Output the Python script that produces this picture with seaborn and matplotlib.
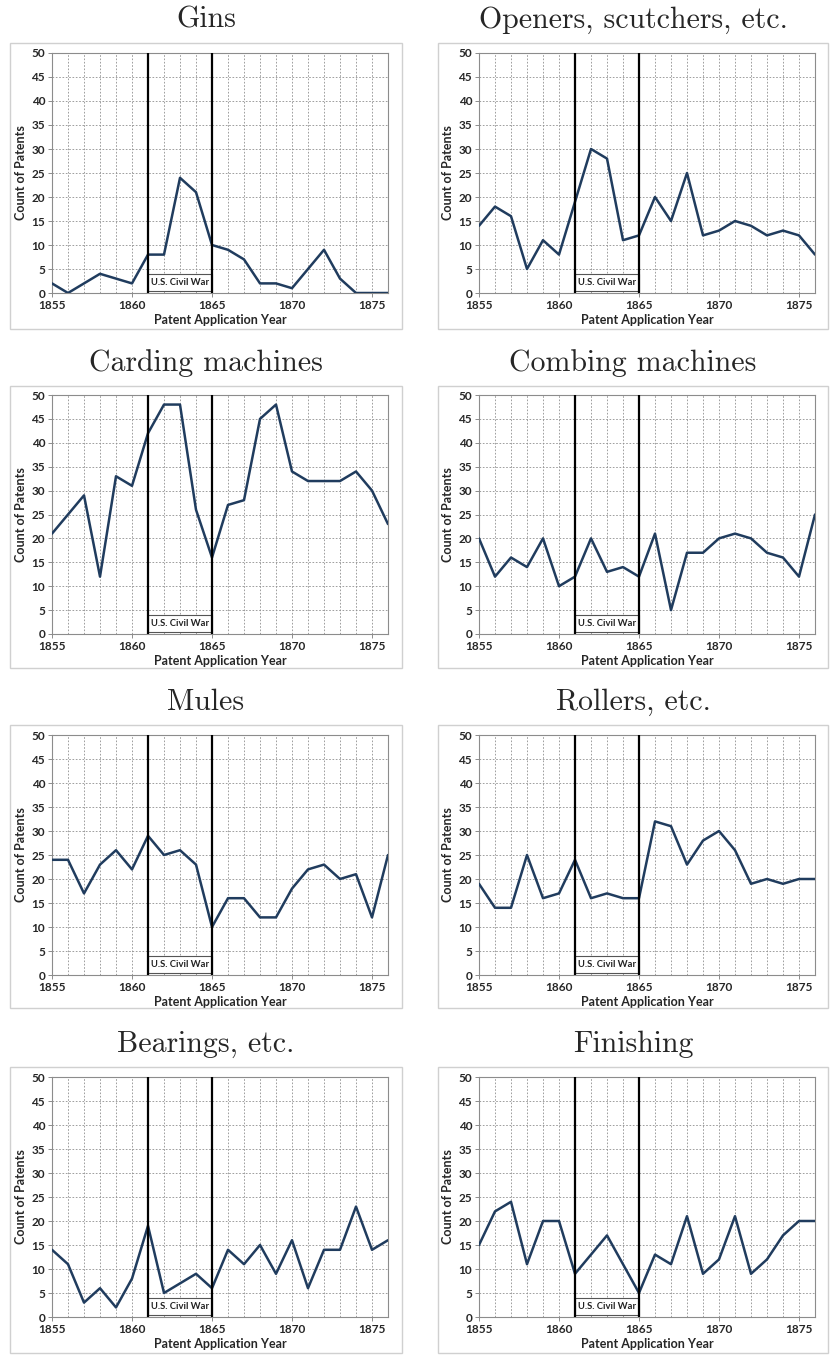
import numpy as np
import pandas as pd
import matplotlib.pyplot as plt
import seaborn as sns
from matplotlib.patches import Rectangle
from matplotlib.ticker import MultipleLocator

# ---------------------------------------------------------------------------
# Data: patent counts per year, 1855-1876
# ---------------------------------------------------------------------------

years = list(range(1855, 1877))

gins = [2, 0, 2, 4, 3, 2, 8, 8, 24, 21, 10, 9, 7, 2, 2, 1, 5, 9, 3, 0, 0, 0]
openers = [14, 18, 16, 5, 11, 8, 19, 30, 28, 11, 12, 20, 15, 25, 12, 13, 15, 14, 12, 13, 12, 8]
carding = [21, 25, 29, 12, 33, 31, 42, 48, 48, 26, 16, 27, 28, 45, 48, 34, 32, 32, 32, 34, 30, 23]
combing = [20, 12, 16, 14, 20, 10, 12, 20, 13, 14, 12, 21, 5, 17, 17, 20, 21, 20, 17, 16, 12, 25]
mules = [24, 24, 17, 23, 26, 22, 29, 25, 26, 23, 10, 16, 16, 12, 12, 18, 22, 23, 20, 21, 12, 25]
rollers = [19, 14, 14, 25, 16, 17, 24, 16, 17, 16, 16, 32, 31, 23, 28, 30, 26, 19, 20, 19, 20, 20]
bearings = [14, 11, 3, 6, 2, 8, 19, 5, 7, 9, 6, 14, 11, 15, 9, 16, 6, 14, 14, 23, 14, 16]
finishing = [15, 22, 24, 11, 20, 20, 9, 13, 17, 11, 5, 13, 11, 21, 9, 12, 21, 9, 12, 17, 20, 20]

titles = ["Gins", "Openers, scutchers, etc.", "Carding machines", "Combing machines",
          "Mules", "Rollers, etc.", "Bearings, etc.", "Finishing"]
series = [gins, openers, carding, combing, mules, rollers, bearings, finishing]

war_start, war_end = 1861, 1865

# ---------------------------------------------------------------------------
# Styling
# ---------------------------------------------------------------------------

sns.set_style("white")
plt.rcParams["font.family"] = ["Lato", "DejaVu Sans"]

W, H = 830, 1355
fig = plt.figure(figsize=(W / 100, H / 100), dpi=100)


def rect(x0, y0, x1, y1):
    # pixel box -> figure fraction [left, bottom, width, height]
    return [x0 / W, 1 - y1 / H, (x1 - x0) / W, (y1 - y0) / H]


col_axes = [(52, 388), (479, 815)]
col_box = [(10, 402), (438, 828)]
row_axes = [(53, 293), (395, 634), (735, 975), (1077, 1317)]
row_box = [(43, 329), (386, 668), (725, 1008), (1067, 1353)]

line_color = "#203C5E"
grid_color = "#8f8f8f"
spine_color = "#8c8c8c"

for i, (title, values) in enumerate(zip(titles, series)):
    r, c = divmod(i, 2)

    # cadre du panneau + titre
    bx0, bx1 = col_box[c]
    by0, by1 = row_box[r]
    fig.patches.append(Rectangle((bx0 / W, 1 - by1 / H), (bx1 - bx0) / W, (by1 - by0) / H,
                                 transform=fig.transFigure, fill=False,
                                 edgecolor="#d0d0d0", lw=1.0))
    fig.text((bx0 + bx1) / 2 / W, 1 - (by0 - 23) / H, title, family="cmr10",
             fontsize=21.5, ha="center", va="center")

    ax = fig.add_axes(rect(col_axes[c][0], row_axes[r][0], col_axes[c][1], row_axes[r][1]))
    df = pd.DataFrame({"year": years, "count": values})
    sns.lineplot(data=df, x="year", y="count", ax=ax, color=line_color, lw=1.8, zorder=5)

    ax.set_xlim(1855, 1876)
    ax.set_ylim(0, 50)
    ax.xaxis.set_major_locator(MultipleLocator(5))
    ax.xaxis.set_minor_locator(MultipleLocator(1))
    ax.yaxis.set_major_locator(MultipleLocator(5))
    ax.grid(True, which="both", axis="x", ls=(0, (2, 2)), color=grid_color, lw=0.6)
    ax.grid(True, which="major", axis="y", ls=(0, (2, 2)), color=grid_color, lw=0.6)
    ax.set_axisbelow(True)

    for s in ax.spines.values():
        s.set_visible(True)
        s.set_color(spine_color)
        s.set_linewidth(0.8)

    ax.tick_params(axis="both", which="major", length=3, width=0.7, color=spine_color,
                   labelsize=8.5, pad=2, bottom=True, left=True)
    ax.tick_params(axis="x", which="minor", length=0)
    for lab in ax.get_xticklabels() + ax.get_yticklabels():
        lab.set_fontweight("bold")

    ax.set_xlabel("Patent Application Year", fontsize=9, fontweight="bold", labelpad=2)
    ax.set_ylabel("Count of Patents", fontsize=9, fontweight="bold", labelpad=3)

    # lignes de la guerre de Sécession
    ax.axvline(war_start, color="black", lw=1.6, zorder=6)
    ax.axvline(war_end, color="black", lw=1.6, zorder=6)
    ax.add_patch(Rectangle((war_start, 0.35), war_end - war_start, 3.65,
                           facecolor="white", edgecolor="#555555", lw=0.8, zorder=4))
    ax.text((war_start + war_end) / 2, 2.15, "U.S. Civil War", fontsize=6.8,
            fontweight="bold", ha="center", va="center", color="#222222", zorder=7)

fig.savefig("out.png", dpi=100)
